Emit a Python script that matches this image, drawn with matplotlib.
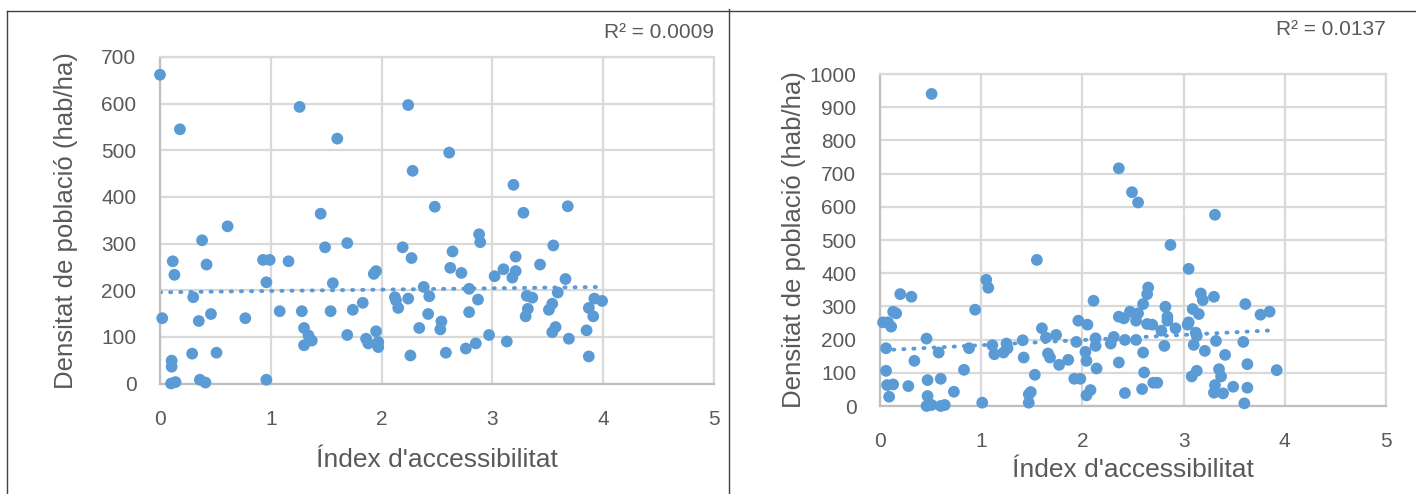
import numpy as np
import matplotlib
matplotlib.use("Agg")
import matplotlib.pyplot as plt
from matplotlib.lines import Line2D

plt.rcParams['font.family'] = ['Liberation Sans Narrow', 'Liberation Sans', 'DejaVu Sans']

# Left chart data (index, density)
left_x = [0.00, 0.18, 1.26, 1.60, 2.24, 2.28, 2.48, 1.45, 0.61, 2.61, 3.19, 3.28, 3.68,
          2.88, 2.89, 2.64, 3.55, 3.21, 3.43, 2.62, 2.72, 3.10, 3.21, 3.18, 3.02, 3.66,
          2.38, 2.43, 2.79, 2.87, 3.31, 3.36, 3.59, 3.92, 3.99, 3.54, 3.51, 3.32, 3.30,
          3.87, 3.91, 2.42, 2.79, 2.54, 2.53, 3.57, 3.54, 3.85, 2.97, 3.13, 2.85, 2.76,
          3.69, 2.58, 3.87, 0.38, 0.115, 0.13, 0.42, 0.93, 0.99, 1.16, 0.96, 1.49, 1.69,
          2.19, 2.27, 1.93, 1.95, 1.56, 0.30, 0.02, 0.35, 0.46, 0.77, 1.08, 1.28, 1.54,
          1.74, 1.83, 2.12, 2.13, 2.15, 2.24, 2.34, 1.30, 1.34, 1.37, 1.30, 1.69, 1.86,
          1.88, 1.95, 1.97, 1.97, 2.26, 0.105, 0.105, 0.29, 0.51, 0.10, 0.14, 0.36, 0.41,
          0.96]
left_y = [662, 545, 593, 525, 597, 456, 379, 364, 337, 495, 426, 366, 380,
          320, 303, 283, 296, 272, 255, 248, 237, 245, 241, 227, 230, 224,
          207, 187, 203, 180, 188, 184, 195, 182, 177, 171, 158, 160, 144,
          162, 144, 149, 153, 133, 116, 121, 110, 114, 104, 90, 86, 75,
          96, 66, 58, 307, 262, 233, 255, 265, 265, 262, 217, 292, 301,
          292, 269, 235, 241, 215, 185, 140, 134, 149, 140, 155, 155, 155,
          158, 173, 185, 178, 162, 182, 119, 119, 103, 92, 82, 104, 96,
          86, 112, 89, 78, 60, 49, 36, 64, 66, 0, 3, 8, 2,
          8]

# Right chart data
right_x = [0.51, 2.36, 2.49, 2.55, 3.31, 1.55, 1.05, 1.07, 0.20, 0.31, 2.11, 0.94, 0.13,
           0.16, 0.03, 0.08, 0.11, 1.96, 2.05, 1.60, 0.46, 1.64, 1.74, 1.41, 1.11, 1.25,
           1.26, 1.22, 1.13, 2.13, 2.13, 1.94, 2.31, 2.28, 0.06, 0.58, 0.88, 1.42, 1.66,
           1.68, 1.77, 1.86, 2.03, 2.04, 0.34, 2.36, 2.14, 0.06, 0.83, 1.53, 1.92, 1.98,
           0.47, 0.60, 0.28, 0.07, 0.13, 0.73, 0.09, 1.49, 1.47, 2.08, 2.04, 0.47, 0.46,
           0.51, 0.60, 0.64, 1.01, 1.47, 2.87, 3.05, 2.65, 2.64, 3.17, 3.19, 3.30, 2.60,
           2.82, 3.61, 3.76, 3.85, 2.47, 2.55, 2.36, 2.41, 2.53, 3.09, 3.15, 2.84, 2.84,
           3.05, 3.04, 2.64, 2.69, 2.92, 2.78, 3.12, 3.13, 2.42, 2.53, 3.32, 3.59, 2.81,
           3.10, 2.60, 3.21, 3.41, 3.63, 3.92, 2.61, 3.13, 3.08, 3.35, 3.37, 2.70, 2.74,
           2.59, 2.42, 3.31, 3.30, 3.39, 3.49, 3.63, 3.60]
right_y = [940, 716, 644, 613, 576, 440, 380, 356, 337, 329, 317, 290, 284,
           279, 252, 252, 239, 257, 245, 234, 203, 206, 214, 198, 183, 188,
           174, 161, 156, 204, 181, 193, 208, 188, 174, 161, 174, 146, 158,
           146, 124, 139, 163, 136, 136, 131, 113, 106, 109, 94, 82, 82,
           78, 82, 60, 63, 65, 43, 28, 42, 35, 48, 32, 30, 0,
           3, 0, 3, 10, 10, 485, 413, 357, 337, 339, 319, 329, 307,
           299, 307, 275, 284, 284, 279, 269, 264, 257, 292, 277, 269, 257,
           252, 245, 247, 245, 234, 227, 221, 211, 199, 199, 196, 193, 181,
           184, 161, 166, 154, 126, 108, 101, 106, 89, 111, 89, 70, 70,
           51, 39, 63, 40, 38, 58, 55, 8]

r2_labels = ["R² = 0.0009", "R² = 0.0137"]
y_limits = [700, 1000]
xlabel = "Índex d'accessibilitat"
ylabel = "Densitat de població (hab/ha)"

blue = "#5B9BD5"
grid_c = "#D9D9D9"
text_c = "#595959"

fig = plt.figure(figsize=(14.16, 4.94), dpi=100)

# axes rectangles in pixels: x0, x1, top, bottom
boxes = [(160, 714, 57, 383.5), (880, 1386, 74, 406)]
W, H = 1416, 494
data = [(left_x, left_y), (right_x, right_y)]
xlab_y = [-0.235, -0.193]

for i, (x0, x1, top, bot) in enumerate(boxes):
    ax = fig.add_axes([x0 / W, (H - bot) / H, (x1 - x0) / W, (bot - top) / H])
    xs, ys = np.array(data[i][0]), np.array(data[i][1])
    ax.scatter(xs, ys, s=72, color=blue, edgecolors='none', zorder=3, clip_on=False)

    # linear trendline
    m, b = np.polyfit(xs, ys, 1)
    tx = np.array([xs.min(), xs.max()])
    ax.plot(tx, m * tx + b, color=blue, lw=2.8, linestyle=(0, (0.3, 2.3)),
            dash_capstyle='round', zorder=2)

    ax.set_xlim(0, 5)
    ax.set_ylim(0, y_limits[i])
    ax.set_xticks(np.arange(0, 6))
    ax.set_yticks(np.arange(0, y_limits[i] + 1, 100))
    ax.grid(True, color=grid_c, lw=1.6, zorder=0)
    ax.set_axisbelow(True)
    for sp in ax.spines.values():
        sp.set_color(grid_c)
        sp.set_linewidth(1.6)
    ax.spines['left'].set_color("#BFBFBF")
    ax.spines['bottom'].set_color("#BFBFBF")
    ax.tick_params(length=0, labelsize=15, labelcolor=text_c)
    ax.tick_params(axis='x', pad=19)
    ax.tick_params(axis='y', pad=17)

    ax.set_xlabel(xlabel, fontsize=19, color=text_c)
    ax.xaxis.set_label_coords(0.5, xlab_y[i])
    ax.xaxis.label.set_va('center')
    ax.set_ylabel(ylabel, fontsize=18.5, color=text_c)
    ax.yaxis.set_label_coords(-0.17, 0.5)
    ax.yaxis.label.set_va('center')

    ax.text(1.0, 1 + (top - (33 if i == 0 else 30)) / (bot - top), r2_labels[i],
            transform=ax.transAxes, ha='right', va='center', fontsize=15, color=text_c)

# panel frame lines
frame = "#404040"
fig.add_artist(Line2D([7 / W, 7 / W], [0, 1 - 11 / H], color=frame, lw=1))
fig.add_artist(Line2D([7 / W, 1], [1 - 11 / H, 1 - 11 / H], color=frame, lw=1))
fig.add_artist(Line2D([729 / W, 729 / W], [0, 1 - 9 / H], color=frame, lw=1))

fig.savefig("out.png", dpi=100)
